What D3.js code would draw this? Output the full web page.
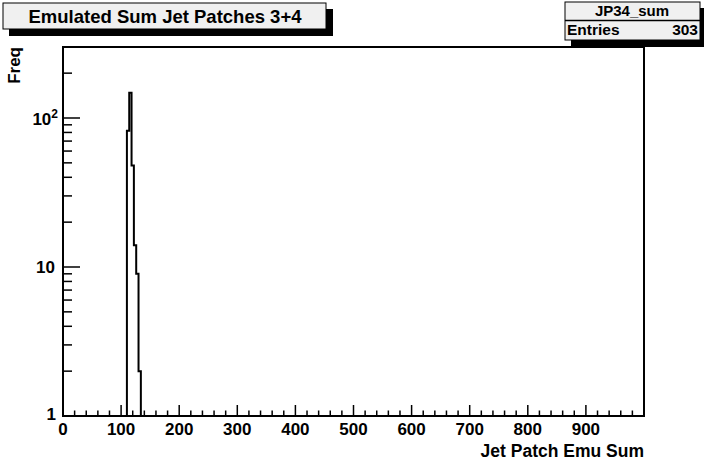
<!DOCTYPE html>
<html><head><meta charset="utf-8">
<script src="https://cdn.jsdelivr.net/npm/d3@7"></script>
<style>body{margin:0;background:#fff}svg{display:block}text{font-family:"Liberation Sans",Arial,sans-serif;font-weight:bold}</style>
</head><body>
<script>
const title = "Emulated Sum Jet Patches 3+4";
const histName = "JP34_sum";
const entriesLabel = "Entries";
const entries = 303;
const xTitle = "Jet Patch Emu Sum";
const yTitle = "Freq";
const binWidth = 4;
const binLow = [110, 114, 118, 122, 126, 130];
const counts = [82, 148, 48, 14, 9, 2];
const xTicks = [0,100,200,300,400,500,600,700,800,900];
const yTicks = [1,10,100];

const W = 704, H = 465;
const L = 63, R = 644, T = 47, B = 416;
const svg = d3.select("body").append("svg").attr("width", W).attr("height", H);

const x = d3.scaleLinear().domain([0, 1000]).range([L, R]);
const decade = 149;
const yTop = Math.pow(10, (B - T) / decade);
const y = d3.scaleLog().domain([1, yTop]).range([B, T]);

// title box
svg.append("rect").attr("x", 9).attr("y", 9).attr("width", 324).attr("height", 27).attr("fill", "#000");
svg.append("rect").attr("x", 3).attr("y", 3).attr("width", 323).attr("height", 26).attr("fill", "#f0f0f0").attr("stroke", "#000").attr("stroke-width", 1);
svg.append("text").attr("x", 165).attr("y", 23).attr("text-anchor", "middle").attr("font-size", 18.5).text(title);

// stats box
svg.append("rect").attr("x", 571).attr("y", 8).attr("width", 133).attr("height", 39).attr("fill", "#000");
svg.append("rect").attr("x", 565).attr("y", 2).attr("width", 135).attr("height", 38).attr("fill", "#f0f0f0").attr("stroke", "#000").attr("stroke-width", 1);
svg.append("line").attr("x1", 565).attr("x2", 700).attr("y1", 20.5).attr("y2", 20.5).attr("stroke", "#000").attr("stroke-width", 1.5);
svg.append("text").attr("x", 632).attr("y", 16).attr("text-anchor", "middle").attr("font-size", 15).text(histName);
svg.append("text").attr("x", 567).attr("y", 35).attr("font-size", 15.5).text(entriesLabel);
svg.append("text").attr("x", 698).attr("y", 35).attr("text-anchor", "end").attr("font-size", 15.5).text(entries);

// frame
svg.append("rect").attr("x", L).attr("y", T).attr("width", R - L).attr("height", B - T).attr("fill", "none").attr("stroke", "#000").attr("stroke-width", 2);

// x ticks (inside)
const xMinor = d3.range(0, 1000, 20).filter(v => v % 100 !== 0);
const g = svg.append("g").attr("stroke", "#000").attr("stroke-width", 1.5);
xTicks.forEach(v => g.append("line").attr("x1", x(v)).attr("x2", x(v)).attr("y1", B).attr("y2", B - 11));
xMinor.forEach(v => g.append("line").attr("x1", x(v)).attr("x2", x(v)).attr("y1", B).attr("y2", B - 5.5));
// y ticks (inside)
yTicks.forEach(v => g.append("line").attr("x1", L).attr("x2", L + 17).attr("y1", y(v)).attr("y2", y(v)));
const yMinor = [];
[1, 10, 100].forEach(d => { for (let k = 2; k <= 9; k++) { const v = d * k; if (v < yTop) yMinor.push(v); } });
yMinor.forEach(v => g.append("line").attr("x1", L).attr("x2", L + 9).attr("y1", y(v)).attr("y2", y(v)));

// x tick labels
xTicks.forEach(v => svg.append("text").attr("x", x(v)).attr("y", 435).attr("text-anchor", "middle").attr("font-size", 17).text(v));
// y tick labels
svg.append("text").attr("x", 56).attr("y", y(1) + 4).attr("text-anchor", "end").attr("font-size", 17).text("1");
svg.append("text").attr("x", 55).attr("y", y(10) + 6).attr("text-anchor", "end").attr("font-size", 17).text("10");
const t2 = svg.append("text").attr("x", 58).attr("y", y(100) + 7).attr("text-anchor", "end").attr("font-size", 17);
t2.append("tspan").text("10");
t2.append("tspan").attr("font-size", 12).attr("dy", -7).text("2");

// axis titles
svg.append("text").attr("x", R).attr("y", 457).attr("text-anchor", "end").attr("font-size", 17.5).text(xTitle);
svg.append("text").attr("transform", `translate(20,${T}) rotate(-90)`).attr("text-anchor", "end").attr("font-size", 17).text(yTitle);

// histogram
let p = d3.path();
p.moveTo(x(binLow[0]), y(1));
binLow.forEach((lo, i) => { p.lineTo(x(lo), y(counts[i])); p.lineTo(x(lo + binWidth), y(counts[i])); });
p.lineTo(x(binLow[binLow.length - 1] + binWidth), y(1));
svg.append("path").attr("d", p.toString()).attr("fill", "none").attr("stroke", "#000").attr("stroke-width", 2);
</script>
</body></html>
